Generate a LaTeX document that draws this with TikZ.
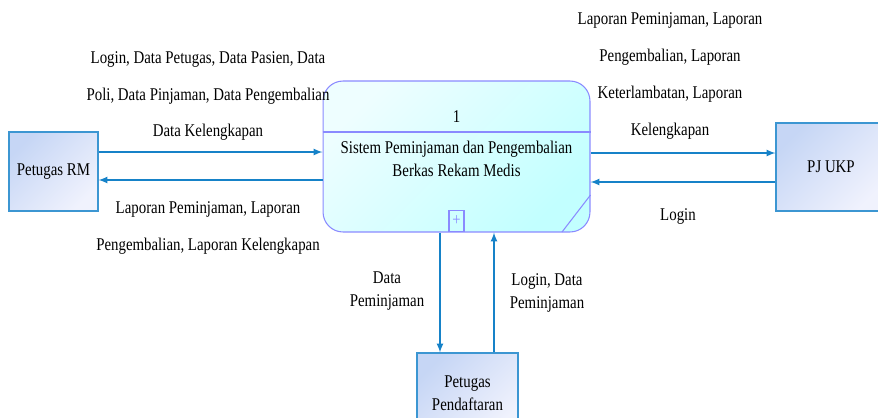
\documentclass[tikz,border=0pt]{standalone}
\usepackage{fontspec}
\setmainfont[FakeStretch=0.83]{Liberation Serif}
\usepackage{xcolor}
\usepackage{tikz}
\usetikzlibrary{arrows, positioning, calc}

\definecolor{entline}{HTML}{3C96D2}
\definecolor{entdark}{HTML}{C6D6F5}
\definecolor{entlight}{HTML}{F0F2FD}
\definecolor{procline}{HTML}{8A8AFF}
\definecolor{proclight}{HTML}{EEFEFF}
\definecolor{procdark}{HTML}{C2FFFF}
\definecolor{flowblue}{HTML}{1682C8}

\begin{document}
\begin{tikzpicture}[x=0.02cm, y=-0.02cm]
\tikzstyle{entity} = [rectangle, draw=entline, line width=0.6pt, left color=entdark, right color=entlight, shading angle=45, align=center, font=\fontsize{10.2}{13}\selectfont]
\tikzstyle{process} = [rectangle, rounded corners=0.4cm, draw=procline, line width=0.6pt, left color=proclight, right color=procdark, shading angle=45, minimum width=5.34cm, minimum height=3.02cm, align=center, font=\fontsize{10.2}{13}\selectfont]
\tikzstyle{label} = [align=center, font=\fontsize{10.2}{21}\selectfont]
\tikzstyle{flow} = [->, >=latex, draw=flowblue, line width=0.75pt]

\useasboundingbox (0,0) rectangle (878,417);

% Process
\node[process] (proc) at (456.5,156.5) {};
\node[font=\fontsize{10.2}{13}\selectfont, align=center] (proctext) at (456.5,159) {Sistem Peminjaman dan Pengembalian\\Berkas Rekam Medis};
\node[font=\fontsize{10.2}{13}\selectfont] (procnum) at (456.5,117) {1};
\draw[procline, line width=0.6pt] (proc.west |- 0,132) -- (proc.east |- 0,132);
\draw[procline, line width=0.6pt] (562,232) -- (proc.east |- 0,195);
\node[draw=procline, line width=0.6pt, minimum width=0.3cm, minimum height=0.42cm, inner sep=0pt, anchor=south, text=procline, font=\fontsize{10}{10}\selectfont] (procplus) at (456.5,232) {+};

% External entities
\node[entity, minimum width=1.78cm, minimum height=1.58cm] (rm) at (53.5,171.5) {Petugas RM};
\node[entity, minimum width=2.2cm, minimum height=1.76cm] (pj) at (831,167) {PJ UKP};
\node[entity, minimum width=2.02cm, minimum height=1.6cm] (pd) at (467.5,393) {Petugas\\Pendaftaran};

% Flows
\draw[flow] (rm.east |- 0,152) -- (proc.west |- 0,152);
\draw[flow] (proc.west |- 0,180) -- (rm.east |- 0,180);
\draw[flow] (proc.east |- 0,153) -- (pj.west |- 0,153);
\draw[flow] (pj.west |- 0,182) -- (proc.east |- 0,182);
\draw[flow] (proc.south -| 440,0) -- (pd.north -| 440,0);
\draw[flow] (pd.north -| 494,0) -- (proc.south -| 494,0);

% Labels
\node[label] (lblrmin) at (208,96) {Login, Data Petugas, Data Pasien, Data\\Poli, Data Pinjaman, Data Pengembalian\\Data Kelengkapan};
\node[label] (lblrmout) at (208,228) {Laporan Peminjaman, Laporan\\Pengembalian, Laporan Kelengkapan};
\node[label] (lblpjin) at (670,76) {Laporan Peminjaman, Laporan\\Pengembalian, Laporan\\Keterlambatan, Laporan\\Kelengkapan};
\node[label] (lblpjout) at (678,216) {Login};
\node[label, font=\fontsize{10.2}{13}\selectfont] (lblpdin) at (387,291) {Data\\Peminjaman};
\node[label, font=\fontsize{10.2}{13}\selectfont] (lblpdout) at (547,293) {Login, Data\\Peminjaman};
\end{tikzpicture}
\end{document}
